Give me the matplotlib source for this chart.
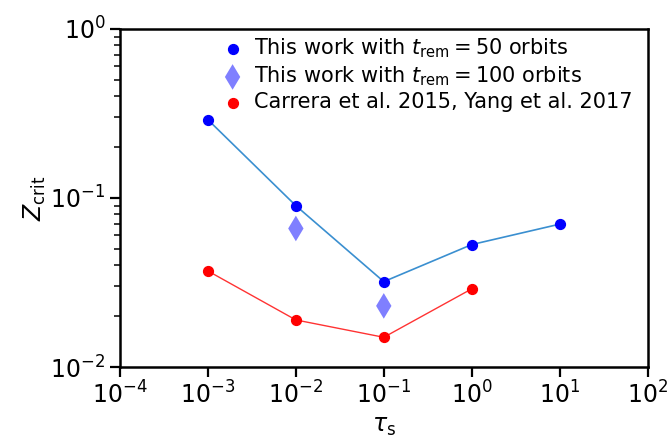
import numpy as np
import matplotlib
matplotlib.use("Agg")
import matplotlib.pyplot as plt

# Stopping time and critical metallicity values
tau_50 = [1e-3, 1e-2, 1e-1, 1e0, 1e1]
z_50 = [0.29, 0.090, 0.032, 0.053, 0.070]

tau_100 = [1e-2, 1e-1]
z_100 = [0.066, 0.023]

tau_lit = [1e-3, 1e-2, 1e-1, 1e0]
z_lit = [0.037, 0.019, 0.015, 0.029]

fig = plt.figure(figsize=(6.72, 4.37), dpi=100)
ax = fig.add_axes([0.1786, 0.160, 0.785, 0.774])

ax.plot(tau_50, z_50, color="#3a8fd0", lw=1.2, zorder=1)
ax.plot(tau_lit, z_lit, color="red", lw=1.0, alpha=0.8, zorder=1)

ax.scatter(tau_50, z_50, color="blue", s=50, zorder=3,
           label=r"This work with $t_{\rm rem}=50$ orbits")
ax.scatter(tau_100, z_100, color="blue", marker="d", s=170, alpha=0.5,
           edgecolors="none", zorder=3,
           label=r"This work with $t_{\rm rem}=100$ orbits")
ax.scatter(tau_lit, z_lit, color="red", s=50, zorder=3,
           label="Carrera et al. 2015, Yang et al. 2017")

ax.set_xscale("log")
ax.set_yscale("log")
ax.set_xlim(1e-4, 1e2)
ax.set_ylim(1e-2, 1e0)
ax.set_xticks([1e-4, 1e-3, 1e-2, 1e-1, 1e0, 1e1, 1e2])
ax.xaxis.set_minor_locator(matplotlib.ticker.NullLocator())

ax.tick_params(which="major", labelsize=17, length=7, width=1.6)
ax.tick_params(which="minor", length=4, width=1.1)
for sp in ax.spines.values():
    sp.set_linewidth(1.8)

ax.set_xlabel(r"$\tau_{\rm s}$", fontsize=17, labelpad=4)
ax.set_ylabel(r"$Z_{\rm crit}$", fontsize=17, labelpad=2)

ax.legend(loc="upper right", bbox_to_anchor=(1.0, 1.02), frameon=False,
          fontsize=15, handletextpad=0.3, labelspacing=0.2,
          borderpad=0.2, handlelength=1.5)

fig.savefig("out.png", dpi=100)
